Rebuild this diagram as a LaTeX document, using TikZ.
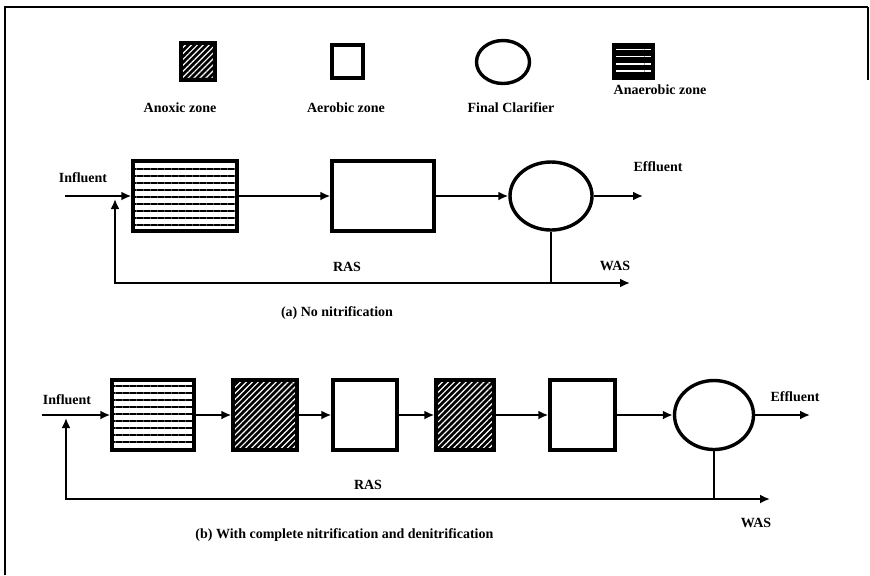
\documentclass[tikz,border=0pt]{standalone}
\usepackage{fontspec}
\setmainfont{Liberation Serif}
\usetikzlibrary{arrows.meta,shapes.geometric,patterns.meta}

\begin{document}
\begin{tikzpicture}[x=0.5pt, y=-0.5pt,
    lbl/.style={font=\fontsize{7}{8}\selectfont\bfseries, inner sep=1pt},
    tank/.style={draw, line width=1.7pt, minimum height=35pt, inner sep=0pt},
    aerobic/.style={tank, fill=white},
    anoxic/.style={tank, preaction={fill=black},
        pattern={Lines[angle=45,distance=2.1pt,line width=0.6pt]}, pattern color=white},
    anaerobic/.style={tank, fill=white,
        postaction={pattern={Lines[angle=0,distance=3.5pt,line width=1pt]}}},
    anaerobickey/.style={tank, preaction={fill=black},
        pattern={Lines[angle=0,distance=3.6pt,line width=0.8pt]}, pattern color=white},
    clarifier/.style={draw, ellipse, line width=1.7pt, inner sep=0pt},
    pipe/.style={line width=1.4pt},
    flow/.style={pipe, -{Latex[length=5pt,width=4.5pt]}}]
    \useasboundingbox (0,0) rectangle (870,575);

    % frame
    \draw[line width=0.8pt] (5,575) -- (5,7) -- (868,7);
    \draw[line width=0.6pt] (868,7) -- (868,80);

    % legend
    \node[anoxic, minimum width=17pt, minimum height=18.5pt] (kanox) at (198,61.5) {};
    \node[aerobic, minimum width=15.5pt, minimum height=16.5pt] (kaer) at (347.5,61.5) {};
    \node[clarifier, minimum width=26.5pt, minimum height=21.5pt] (kclar) at (503,62) {};
    \node[anaerobickey, minimum width=19.5pt, minimum height=16.5pt] (kanaer) at (633.5,61.5) {};
    \node[lbl] (tanox) at (180,108) {Anoxic zone};
    \node[lbl] (taer) at (346,108) {Aerobic zone};
    \node[lbl] (tclar) at (511,108) {Final Clarifier};
    \node[lbl] (tanaer) at (660,90) {Anaerobic zone};

    % (a) no nitrification
    \node[anaerobic, minimum width=52pt] (a1) at (185,196) {};
    \node[aerobic, minimum width=51pt] (a2) at (383,196) {};
    \node[clarifier, minimum width=41pt, minimum height=34pt] (ac) at (551,196) {};
    \coordinate (ain) at (65,196);
    \coordinate (aout) at (643,196);
    \coordinate (ajoin) at (551,283);
    \coordinate (awas) at (630,283);
    \coordinate (aret) at (115,199);

    \draw[flow] (ain) -- (a1);
    \draw[flow] (a1) -- (a2);
    \draw[flow] (a2) -- (ac);
    \draw[flow] (ac) -- (aout);
    \draw[pipe] (ac) -- (ajoin);
    \draw[flow] (ajoin) -- (awas);
    \draw[flow] (ajoin) -| (aret);

    \node[lbl] (ainl) at (83,178) {Influent};
    \node[lbl] (aoutl) at (658,167) {Effluent};
    \node[lbl] (aras) at (347,267) {RAS};
    \node[lbl] (awasl) at (615,266) {WAS};
    \node[lbl] (acap) at (337,313) {(a) No nitrification};

    % (b) complete nitrification and denitrification
    \node[anaerobic, minimum width=41pt] (b1) at (153,415) {};
    \node[anoxic, minimum width=32pt] (b2) at (265,415) {};
    \node[aerobic, minimum width=32pt] (b3) at (365,415) {};
    \node[anoxic, minimum width=29pt] (b4) at (465,415) {};
    \node[aerobic, minimum width=32.5pt] (b5) at (582.5,415) {};
    \node[clarifier, minimum width=39.5pt, minimum height=34.5pt] (bc) at (714,415) {};
    \coordinate (bin) at (42,415);
    \coordinate (bout) at (810,415);
    \coordinate (bjoin) at (714,499);
    \coordinate (bwas) at (770,499);
    \coordinate (bret) at (66,418);

    \draw[flow] (bin) -- (b1);
    \foreach \u/\v in {b1/b2, b2/b3, b3/b4, b4/b5, b5/bc}
        \draw[flow] (\u) -- (\v);
    \draw[flow] (bc) -- (bout);
    \draw[pipe] (bc) -- (bjoin);
    \draw[flow] (bjoin) -- (bwas);
    \draw[flow] (bjoin) -| (bret);

    \node[lbl] (binl) at (67,400) {Influent};
    \node[lbl] (boutl) at (795,397) {Effluent};
    \node[lbl] (bras) at (368,485) {RAS};
    \node[lbl] (bwasl) at (756,523) {WAS};
    \node[lbl, anchor=west] (bcap) at (193,535) {(b) With complete nitrification and denitrification};
\end{tikzpicture}
\end{document}
